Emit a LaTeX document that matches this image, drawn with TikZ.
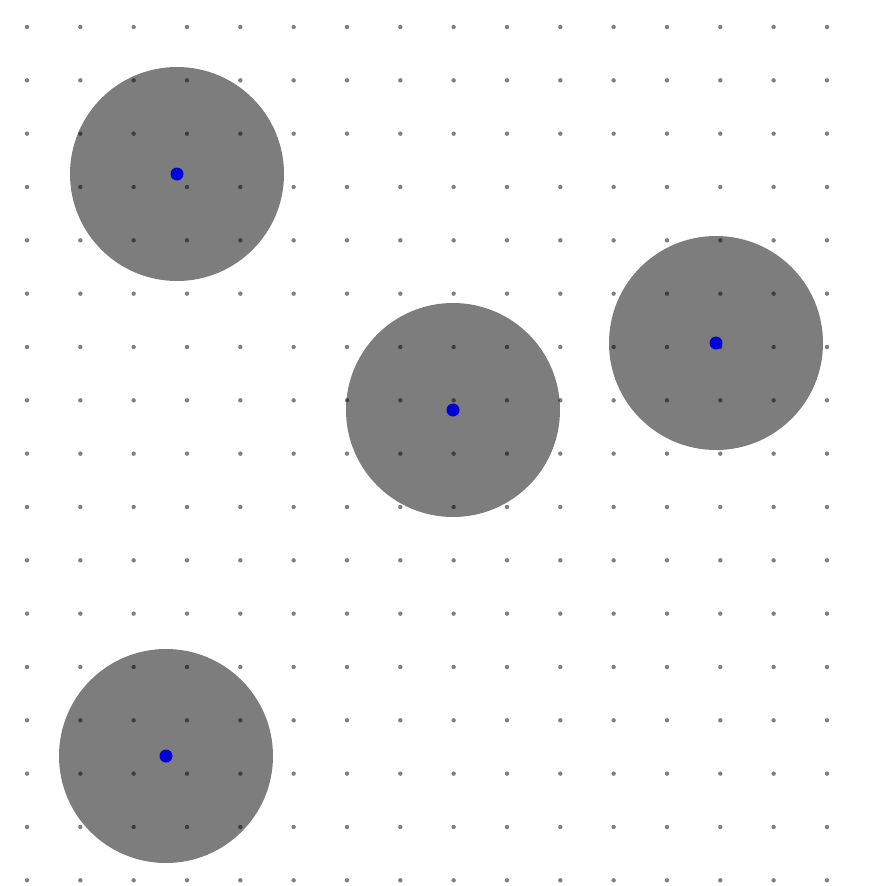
\documentclass[tikz,border=0pt]{standalone}
\begin{document}
\begin{tikzpicture}[x=1pt,y=-1pt,
  disk/.style={circle,fill=gray!98!black,draw=none,minimum size=214pt,inner sep=0pt},
  centre/.style={circle,fill=blue!85!black,draw=none,minimum size=13pt,inner sep=0pt},
  griddot/.style={fill=black,opacity=0.5}]
\useasboundingbox (0,0) rectangle (873,886);
\fill[white] (0,0) rectangle (873,886);
\node[disk] (c1) at (177,174) {};
\node[disk] (c2) at (453,410) {};
\node[disk] (c3) at (716,343) {};
\node[disk] (c4) at (166,756) {};
\foreach \i in {0,...,15}{
  \foreach \j in {0,...,16}{
    \fill[griddot] ({27+53.33*\i},{27+53.33*\j}) circle (2.2pt);
  }
}
\node[centre] (b1) at (c1.center) {};
\node[centre] (b2) at (c2.center) {};
\node[centre] (b3) at (c3.center) {};
\node[centre] (b4) at (c4.center) {};
\end{tikzpicture}
\end{document}
